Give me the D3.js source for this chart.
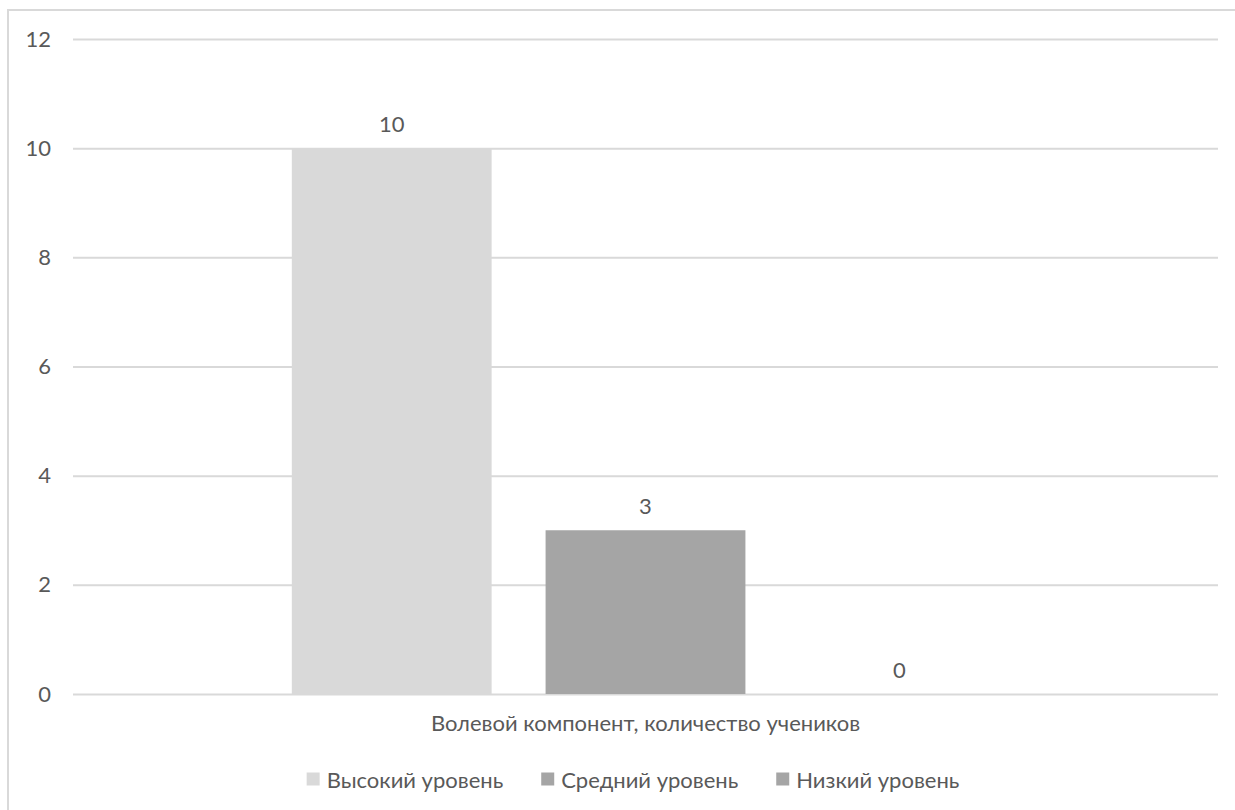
<!DOCTYPE html>
<html>
<head>
<meta charset="utf-8">
<script src="https://cdn.jsdelivr.net/npm/d3@7"></script>
<style>
  html, body { margin: 0; padding: 0; background: #fff; }
  svg { display: block; }
  text { font-family: Lato, "Open Sans", sans-serif; fill: #595959; }
</style>
</head>
<body>
<svg id="chart" width="1235" height="810"></svg>
<script>
// Data
const categories = ["Волевой компонент, количество учеников"];
const seriesNames = ["Высокий уровень", "Средний уровень", "Низкий уровень"];
const seriesValues = [10, 3, 0];
const seriesColors = ["#d9d9d9", "#a5a5a5", "#a5a5a5"];
const yTicks = [0, 2, 4, 6, 8, 10, 12];

const svg = d3.select("#chart");
const W = 1235, H = 810;
const plot = { left: 73, right: 1218, top: 39, bottom: 694 };
const fontSize = 22;

// Chart area border
svg.append("rect")
  .attr("x", 8).attr("y", 10)
  .attr("width", W + 10).attr("height", H + 10)
  .attr("fill", "#fff")
  .attr("stroke", "#d9d9d9").attr("stroke-width", 2);

const y = d3.scaleLinear().domain([0, 12]).range([plot.bottom, plot.top]);

// Category band; bars use a 219% gap width and -27% overlap
const x0 = d3.scaleBand().domain(categories).range([plot.left, plot.right]).padding(0);
const gapWidth = 2.19, overlap = 0.27;
const barW = x0.bandwidth() / (seriesNames.length + (seriesNames.length - 1) * overlap + gapWidth);
const groupW = barW * seriesNames.length + barW * overlap * (seriesNames.length - 1);
const x1 = d3.scaleBand()
  .domain(seriesNames)
  .range([(x0.bandwidth() - groupW) / 2, (x0.bandwidth() + groupW) / 2])
  .paddingInner(overlap / (1 + overlap))
  .paddingOuter(0);

// Gridlines and y labels
const yAxis = d3.axisLeft(y).tickValues(yTicks).tickSize(-(plot.right - plot.left)).tickPadding(22);
const gy = svg.append("g").attr("transform", `translate(${plot.left},0)`).call(yAxis);
gy.select(".domain").remove();
gy.selectAll(".tick line").attr("stroke", "#d9d9d9").attr("stroke-width", 2);
gy.selectAll(".tick text")
  .attr("font-size", fontSize)
  .attr("fill", "#595959")
  .style("font-family", "Lato, 'Open Sans', sans-serif");

// Bars
const g = svg.append("g").attr("transform", `translate(${x0(categories[0])},0)`);
const barData = seriesNames.map((s, i) => ({ name: s, value: seriesValues[i], color: seriesColors[i] }));

g.selectAll("rect.bar").data(barData).join("rect")
  .attr("class", "bar")
  .attr("x", d => x1(d.name))
  .attr("y", d => y(d.value))
  .attr("width", x1.bandwidth())
  .attr("height", d => y(0) - y(d.value))
  .attr("fill", d => d.color);

// Value labels
g.selectAll("text.val").data(barData).join("text")
  .attr("class", "val")
  .attr("x", d => x1(d.name) + x1.bandwidth() / 2)
  .attr("y", d => y(d.value) - 25)
  .attr("text-anchor", "middle")
  .attr("dominant-baseline", "central")
  .attr("font-size", fontSize)
  .text(d => d.value);

// Category label
const xAxis = d3.axisBottom(x0).tickSize(0).tickPadding(21);
const gx = svg.append("g").attr("transform", `translate(0,${plot.bottom})`).call(xAxis);
gx.select(".domain").remove();
gx.selectAll(".tick text")
  .attr("font-size", fontSize)
  .attr("fill", "#595959")
  .style("font-family", "Lato, 'Open Sans', sans-serif");

// Legend
const legendY = 779;
const legend = svg.append("g");
const items = legend.selectAll("g").data(barData).join("g");
items.append("rect")
  .attr("width", 13).attr("height", 13)
  .attr("y", legendY - 6.5)
  .attr("fill", d => d.color);
items.append("text")
  .attr("x", 20)
  .attr("y", legendY)
  .attr("dominant-baseline", "central")
  .attr("font-size", fontSize)
  .text(d => d.name);

// Lay out legend entries in a row
let widths = [];
items.each(function() { widths.push(this.getBBox().width); });
const spacing = 38;
const total = d3.sum(widths) + spacing * (widths.length - 1);
let cx = 633 - total / 2;
items.attr("transform", (d, i) => {
  const t = `translate(${cx},0)`;
  cx += widths[i] + spacing;
  return t;
});
</script>
</body>
</html>
